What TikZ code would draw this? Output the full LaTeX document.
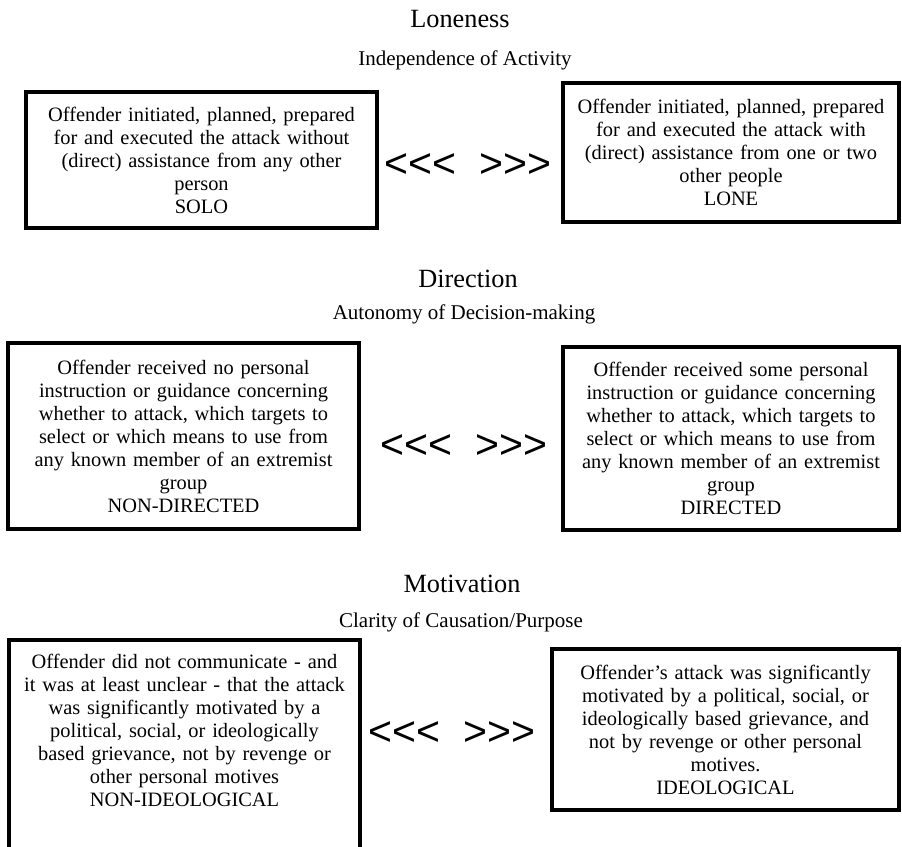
\documentclass[tikz,border=0pt]{standalone}
\usepackage{fontspec}
\setmainfont{Liberation Serif}
\newfontfamily\arrowfont{Liberation Sans}[Ligatures=TeXOff]

\tikzset{
	choicebox/.style={draw, line width=3.5pt, outer sep=0pt, inner sep=0pt,
		text width=330pt, align=center, font=\fontsize{20.4}{23}\selectfont},
	heading/.style={anchor=base, font=\fontsize{26.3}{30}\selectfont},
	subheading/.style={anchor=base, font=\fontsize{21}{25}\selectfont},
	arrowpair/.style={inner sep=0pt, font=\arrowfont\fontsize{41}{45}\selectfont}
}

\begin{document}
\begin{tikzpicture}[x=1pt, y=-1pt]
			\useasboundingbox (0,0) rectangle (902,846);
			\clip (0,0) rectangle (902,846);

			% Loneness
			\node[heading] (lone-title) at (460,27) {Loneness};
			\node[subheading] (lone-sub) at (465,65) {Independence of Activity};
			\node[choicebox, minimum width=351pt, minimum height=136pt] (solo) at (201.5,160)
				{Offender initiated, planned, prepared\\for and executed the attack without\\(direct) assistance from any other\\person\\SOLO};
			\node[choicebox, minimum width=336pt, minimum height=139pt] (lone) at (731,152.5)
				{Offender initiated, planned, prepared\\for and executed the attack with\\(direct) assistance from one or two\\other people\\LONE};
			\node[arrowpair] (lone-arrows) at (468,166) {<<<~~>>>};

			% Direction
			\node[heading] (dir-title) at (468,287) {Direction};
			\node[subheading] (dir-sub) at (464,319) {Autonomy of Decision-making};
			\node[choicebox, minimum width=351pt, minimum height=186pt] (nondirected) at (183.5,436)
				{Offender received no personal\\instruction or guidance concerning\\whether to attack, which targets to\\select or which means to use from\\any known member of an extremist\\group\\NON-DIRECTED};
			\node[choicebox, minimum width=336pt, minimum height=183pt] (directed) at (731,438.5)
				{Offender received some personal\\instruction or guidance concerning\\whether to attack, which targets to\\select or which means to use from\\any known member of an extremist\\group\\DIRECTED};
			\node[arrowpair] (dir-arrows) at (464,447) {<<<~~>>>};

			% Motivation
			\node[heading] (mot-title) at (462,592) {Motivation};
			\node[subheading] (mot-sub) at (461,627) {Clarity of Causation/Purpose};
			\node[choicebox, anchor=north, minimum width=351pt, text height=28.6pt, text depth=215pt] (nonideological) at (184.5,640)
				{Offender did not communicate - and\\it was at least unclear - that the attack\\was significantly motivated by a\\political, social, or ideologically\\based grievance, not by revenge or\\other personal motives\\NON-IDEOLOGICAL};
			\node[choicebox, minimum width=347pt, minimum height=161pt] (ideological) at (725.5,729.5)
				{Offender’s attack was significantly\\motivated by a political, social, or\\ideologically based grievance, and\\not by revenge or other personal\\motives.\\IDEOLOGICAL};
			\node[arrowpair] (mot-arrows) at (452,734) {<<<~~>>>};
		\end{tikzpicture}
\end{document}
